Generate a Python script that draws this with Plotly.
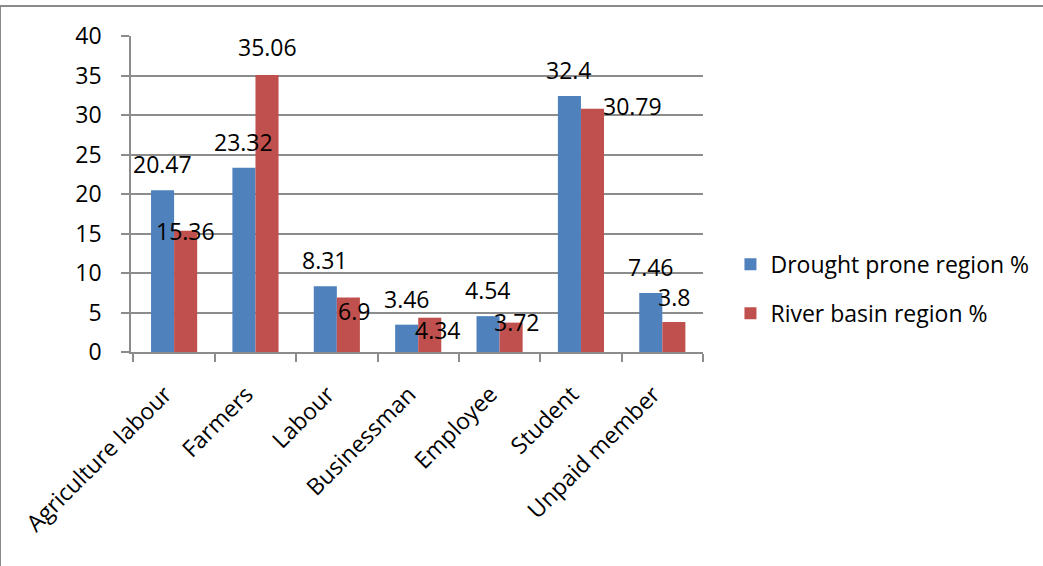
import plotly.graph_objects as go

categories = ["Agriculture labour", "Farmers", "Labour", "Businessman",
              "Employee", "Student", "Unpaid member"]
drought_prone = [20.47, 23.32, 8.31, 3.46, 4.54, 32.4, 7.46]
river_basin = [15.36, 35.06, 6.9, 4.34, 3.72, 30.79, 3.8]
drought_labels = ["20.47", "23.32", "8.31", "3.46", "4.54", "32.4", "7.46"]
river_labels = ["15.36", "35.06", "6.9", "4.34", "3.72", "30.79", "3.8"]
y_ticks = [0, 5, 10, 15, 20, 25, 30, 35, 40]

BLUE = "#4F81BD"
RED = "#C0504D"
GRID = "#8C8C8C"
FONT = "Open Sans"

# pixel offsets of each data label relative to the top-centre of its bar
drought_offsets = [(0, 26), (0, 26), (0, 26), (0, 26), (0, 26), (0, 26), (0, 26)]
river_offsets = [(0, 0), (0, 28), (6, -14), (8, -12), (6, 1), (40, 3), (0, 25)]

fig = go.Figure()
fig.add_trace(go.Bar(x=categories, y=drought_prone, name="Drought prone region %",
                     marker=dict(color=BLUE, line=dict(width=0)),
                     legendgroup="a"))
fig.add_trace(go.Bar(x=categories, y=river_basin, name="River basin region %",
                     marker=dict(color=RED, line=dict(width=0)),
                     legendgroup="b"))

annotations = []
for series, labels, offsets, shift in (
        (drought_prone, drought_labels, drought_offsets, -11.6),
        (river_basin, river_labels, river_offsets, 11.6)):
    for cat, val, lab, (dx, dy) in zip(categories, series, labels, offsets):
        annotations.append(dict(
            x=cat, y=val, xref="x", yref="y", text=lab, showarrow=False,
            xanchor="center", yanchor="middle",
            xshift=shift + dx, yshift=dy,
            font=dict(family=FONT, size=23, color="#000000")))

fig.update_layout(
    width=1043, height=566,
    margin=dict(l=131, r=340, t=36, b=214, autoexpand=False),
    paper_bgcolor="#FFFFFF", plot_bgcolor="#FFFFFF",
    barmode="group", bargap=0.433, bargroupgap=0,
    font=dict(family=FONT, size=23, color="#000000"),
    annotations=annotations,
    legend=dict(x=1.048, xanchor="left", xref="paper", y=0.2, yanchor="middle",
                traceorder="grouped", tracegroupgap=16,
                font=dict(family=FONT, size=23, color="#000000"),
                bgcolor="rgba(0,0,0,0)", itemsizing="constant"),
    xaxis=dict(type="category", tickson="boundaries", ticks="outside",
               ticklen=8, tickwidth=1.5, tickcolor=GRID,
               showline=True, linecolor=GRID, linewidth=1.5,
               showgrid=False, tickangle=-45, ticklabelstandoff=18,
               ticklabelshift=-9,
               tickfont=dict(family=FONT, size=23, color="#000000")),
    yaxis=dict(range=[0, 40], tickvals=y_ticks, ticks="outside", ticklen=8,
               tickwidth=1.5, tickcolor=GRID,
               showline=True, linecolor=GRID, linewidth=1.5,
               showgrid=True, gridcolor=GRID, gridwidth=1.5,
               zeroline=False, ticklabelstandoff=15,
               tickfont=dict(family=FONT, size=23, color="#000000")),
    shapes=[
        dict(type="line", xref="paper", yref="paper",
             x0=-131 / 572, x1=-131 / 572, y0=1 + 30 / 316, y1=-214 / 316,
             line=dict(color="#8A8A8A", width=2)),
        dict(type="line", xref="paper", yref="paper",
             x0=-131 / 572, x1=912 / 572, y0=1 + 30 / 316, y1=1 + 30 / 316,
             line=dict(color="#8A8A8A", width=2)),
    ],
)

fig.write_html("out.html")
